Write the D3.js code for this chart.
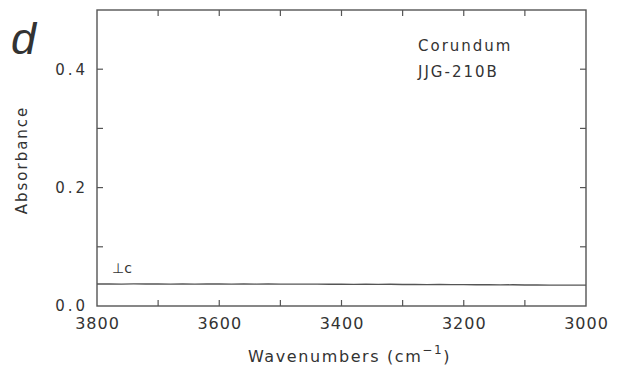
<!DOCTYPE html>
<html>
<head>
<meta charset="utf-8">
<script src="https://cdn.jsdelivr.net/npm/d3@7"></script>
<style>
  body { margin: 0; background: #fff; }
  svg { display: block; }
  text { font-family: "DejaVu Sans", sans-serif; fill: #333; }
</style>
</head>
<body>
<script>
// Spectrum: wavenumbers (cm-1) and absorbance readings
const wavenumbers = [3800,3780,3760,3740,3720,3700,3680,3660,3640,3620,3600,3580,3560,3540,3520,3500,3480,3460,3440,3420,3400,3380,3360,3340,3320,3300,3280,3260,3240,3220,3200,3180,3160,3140,3120,3100,3080,3060,3040,3020,3000];
const absorbance = [0.0372,0.0374,0.0371,0.0373,0.0372,0.0374,0.0370,0.0373,0.0371,0.0374,0.0372,0.0370,0.0373,0.0371,0.0372,0.0369,0.0371,0.0368,0.0370,0.0367,0.0369,0.0366,0.0368,0.0365,0.0367,0.0363,0.0366,0.0362,0.0364,0.0361,0.0362,0.0359,0.0361,0.0357,0.0359,0.0355,0.0357,0.0353,0.0354,0.0352,0.0351];

const xTicks = [3800, 3600, 3400, 3200, 3000];
const xMinor = [3700, 3500, 3300, 3100];
const yTicks = [0.0, 0.2, 0.4];
const yMinor = [0.1, 0.3];

const W = 627, H = 371;
const m = { left: 97, right: 41, top: 10, bottom: 65 };

const svg = d3.select("body").append("svg").attr("width", W).attr("height", H);

const x = d3.scaleLinear().domain([3800, 3000]).range([m.left, W - m.right]);
const y = d3.scaleLinear().domain([0, 0.5]).range([H - m.bottom, m.top]);

const frame = "#555";
const tickLen = 6;

// plot frame
svg.append("rect")
  .attr("x", x(3800)).attr("y", y(0.5))
  .attr("width", x(3000) - x(3800)).attr("height", y(0) - y(0.5))
  .attr("fill", "none").attr("stroke", frame).attr("stroke-width", 1.4);

// inward ticks on all four sides
const allX = xTicks.concat(xMinor).filter(v => v !== 3800 && v !== 3000);
const allY = yTicks.concat(yMinor).filter(v => v !== 0);
const tk = svg.append("g").attr("stroke", frame).attr("stroke-width", 1.2);
allX.forEach(v => {
  tk.append("line").attr("x1", x(v)).attr("x2", x(v)).attr("y1", y(0)).attr("y2", y(0) - tickLen);
  tk.append("line").attr("x1", x(v)).attr("x2", x(v)).attr("y1", y(0.5)).attr("y2", y(0.5) + tickLen);
});
allY.forEach(v => {
  tk.append("line").attr("x1", x(3800)).attr("x2", x(3800) + tickLen).attr("y1", y(v)).attr("y2", y(v));
  tk.append("line").attr("x1", x(3000)).attr("x2", x(3000) - tickLen).attr("y1", y(v)).attr("y2", y(v));
});

// bottom axis labels
const xAxis = d3.axisBottom(x).tickValues(xTicks).tickSize(0).tickPadding(12).tickFormat(d3.format("d"));
const gx = svg.append("g").attr("transform", `translate(0,${y(0)})`).call(xAxis);
gx.select(".domain").remove();
gx.selectAll("text").style("font-size", "16px").style("letter-spacing", "1px").attr("fill", "#333");

// left axis labels
const yAxis = d3.axisLeft(y).tickValues(yTicks).tickSize(0).tickPadding(9).tickFormat(d3.format(".1f"));
const gy = svg.append("g").attr("transform", `translate(${x(3800)},0)`).call(yAxis);
gy.select(".domain").remove();
gy.selectAll("text").style("font-size", "15px").style("letter-spacing", "3px").attr("fill", "#333");

// spectrum trace
const line = d3.line().x((d, i) => x(wavenumbers[i])).y(d => y(d));
svg.append("path").datum(absorbance)
  .attr("d", line).attr("fill", "none").attr("stroke", "#555").attr("stroke-width", 1.3);

// annotations
svg.append("text").attr("x", 11).attr("y", 54)
  .style("font-family", "Liberation Sans, sans-serif").style("font-style", "italic")
  .style("font-size", "45px").attr("fill", "#222").text("d");

svg.append("text").attr("x", 418).attr("y", 51).style("font-size", "15px").style("letter-spacing", "2px").text("Corundum");
svg.append("text").attr("x", 418).attr("y", 77).style("font-size", "15px").style("letter-spacing", "2px").text("JJG-210B");
svg.append("text").attr("x", 112).attr("y", 273).style("font-size", "14px").text("⊥c");

svg.append("text").attr("transform", `translate(27,${(y(0) + y(0.5)) / 2 + 2}) rotate(-90)`)
  .attr("text-anchor", "middle").style("font-size", "15px").style("letter-spacing", "2px").text("Absorbance");

const xl = svg.append("text").attr("x", (x(3800) + x(3000)) / 2 + 8).attr("y", 362)
  .attr("text-anchor", "middle").style("font-size", "16px").style("letter-spacing", "1.6px");
xl.append("tspan").text("Wavenumbers (cm");
xl.append("tspan").attr("dy", -8).style("font-size", "12px").text("−1");
xl.append("tspan").attr("dy", 8).text(")");
</script>
</body>
</html>
